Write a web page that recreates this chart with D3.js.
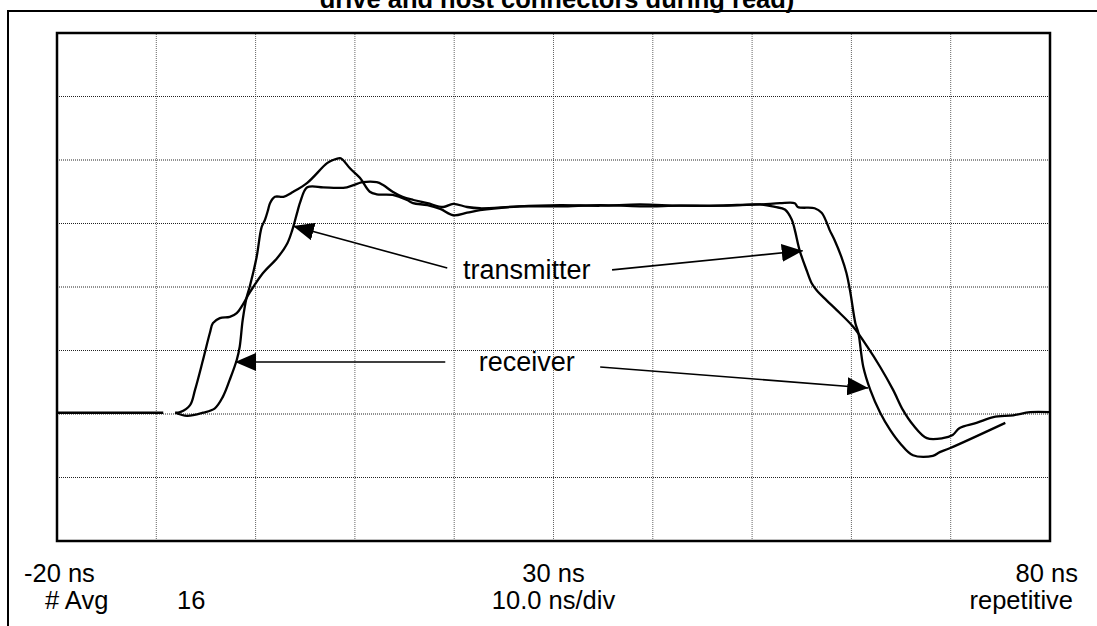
<!DOCTYPE html>
<html>
<head>
<meta charset="utf-8">
<script src="https://cdn.jsdelivr.net/npm/d3@7"></script>
<style>
  body { margin: 0; background: #fff; }
  text { font-family: "Liberation Sans", Arial, sans-serif; fill: #000; }
</style>
</head>
<body>
<div id="graph"></div>
<script>
const WIDTH = 1097, HEIGHT = 626;
const margin = {top: 33, right: 47, bottom: 85, left: 57};

// time in ns, level in screen divisions (0 = bottom, 8 = top)
const xDomain = [-20, 80];
const yDomain = [0, 8];
const xGrid = [-10, 0, 10, 20, 30, 40, 50, 60, 70];
const yGrid = [1, 2, 3, 4, 5, 6, 7];

const transmitter = [
  [-8.1, 2.02], [-7.6, 2.03], [-6.6, 2.14], [-6.1, 2.38], [-5.3, 2.85], [-4.6, 3.28],
  [-4.3, 3.43], [-3.6, 3.51], [-2.6, 3.53], [-1.9, 3.59], [-1.3, 3.72], [-0.6, 3.91],
  [0.75, 4.22], [2.2, 4.46], [3.2, 4.69], [3.7, 4.90], [4.2, 5.18], [4.5, 5.34],
  [5.2, 5.57], [6.8, 5.57], [8.2, 5.56], [9.2, 5.57], [10.8, 5.65], [12.2, 5.65],
  [12.8, 5.61], [13.8, 5.50], [14.8, 5.42], [15.9, 5.37], [17.3, 5.32], [18.9, 5.26],
  [19.9, 5.31], [21.3, 5.26], [22.6, 5.24], [26.6, 5.27], [30.7, 5.27], [34.7, 5.29],
  [38.7, 5.27], [42.7, 5.28], [46.8, 5.28], [50.8, 5.30], [52.3, 5.26], [53.3, 5.22],
  [54.0, 5.06], [54.3, 4.90], [54.8, 4.57], [55.5, 4.26], [56.0, 4.06], [56.5, 3.95],
  [57.5, 3.79], [58.5, 3.64], [60.2, 3.37], [61.6, 3.06], [62.9, 2.74], [64.2, 2.38],
  [65.2, 2.06], [66.2, 1.83], [67.6, 1.62], [69.2, 1.62], [70.2, 1.67], [70.9, 1.78],
  [72.6, 1.86], [74.3, 1.95], [76.3, 1.98], [78.0, 2.03], [80.0, 2.03]
];

const receiver = [
  [-20, 2.02], [-9.3, 2.02], null,
  [-8.1, 2.02], [-6.9, 1.97], [-5.3, 2.02], [-4.1, 2.09], [-3.3, 2.27], [-2.6, 2.54],
  [-1.9, 2.85], [-1.6, 3.06], [-1.3, 3.48], [-0.9, 3.84], [-0.6, 4.00], [0.1, 4.47],
  [0.6, 4.94], [0.95, 5.06], [1.25, 5.21], [1.45, 5.32], [1.95, 5.42], [2.8, 5.42],
  [3.8, 5.50], [5.2, 5.64], [7.2, 5.95], [7.8, 6.00], [8.5, 6.03], [8.8, 6.00],
  [9.5, 5.87], [10.5, 5.72], [11.5, 5.50], [12.2, 5.46], [13.8, 5.45], [15.25, 5.37],
  [15.85, 5.32], [17.3, 5.29], [18.6, 5.23], [19.9, 5.13], [21.3, 5.17], [22.6, 5.21],
  [26.6, 5.27], [30.7, 5.29], [34.7, 5.28], [38.7, 5.30], [42.7, 5.28], [46.8, 5.28],
  [50.8, 5.30], [52.8, 5.32], [54.3, 5.32], [54.6, 5.26], [56.3, 5.24], [57.0, 5.17],
  [57.5, 5.02], [57.8, 4.90], [58.3, 4.74], [59.0, 4.47], [59.5, 4.22], [59.9, 3.91],
  [60.4, 3.43], [60.7, 3.28], [61.2, 2.74], [61.9, 2.38], [62.9, 2.02], [63.9, 1.75],
  [64.9, 1.54], [66.2, 1.35], [68.2, 1.34], [68.9, 1.40], [69.9, 1.46], [75.5, 1.86]
];

// annotations: label position and arrows [from, to]
const labels = [
  {text: "transmitter", at: [27.3, 4.13]},
  {text: "receiver", at: [27.3, 2.67]}
];
const arrows = [
  [[19.3, 4.30], [3.77, 4.96]],
  [[35.9, 4.27], [55.1, 4.57]],
  [[19.1, 2.82], [-2.07, 2.82]],
  [[34.7, 2.74], [61.7, 2.41]]
];

const footLeft = ["-20 ns", "# Avg", "16"];
const footMid = ["30 ns", "10.0 ns/div"];
const footRight = ["80 ns", "repetitive"];
const title = "drive and host connectors during read)";

let svg = d3.select("#graph")
    .append("svg")
    .attr("width", WIDTH)
    .attr("height", HEIGHT);

let x = d3.scaleLinear()
    .domain(xDomain)
    .range([margin.left, WIDTH - margin.right]);

let y = d3.scaleLinear()
    .domain(yDomain)
    .range([HEIGHT - margin.bottom, margin.top]);

// outer page frame (top and left edges)
svg.append("path")
    .attr("d", `M8,${HEIGHT} V11 H${WIDTH}`)
    .attr("fill", "none")
    .attr("stroke", "#000")
    .attr("stroke-width", 2);

// second title line, its top is cut by the page edge as in the original
svg.append("text")
    .attr("x", 557)
    .attr("y", 7.5)
    .attr("text-anchor", "middle")
    .style("font-size", "25.5px")
    .style("font-weight", "bold")
    .text(title);

// dotted grid
svg.append("g").selectAll("line").data(xGrid).join("line")
    .attr("x1", d => x(d)).attr("x2", d => x(d))
    .attr("y1", y(yDomain[0])).attr("y2", y(yDomain[1]))
    .attr("stroke", "#666")
    .attr("stroke-width", 1)
    .attr("stroke-dasharray", "1,1");

svg.append("g").selectAll("line").data(yGrid).join("line")
    .attr("x1", x(xDomain[0])).attr("x2", x(xDomain[1]))
    .attr("y1", d => y(d)).attr("y2", d => y(d))
    .attr("stroke", "#222")
    .attr("stroke-width", 1)
    .attr("stroke-dasharray", "1,1");

svg.append("rect")
    .attr("x", x(xDomain[0]))
    .attr("y", y(yDomain[1]))
    .attr("width", x(xDomain[1]) - x(xDomain[0]))
    .attr("height", y(yDomain[0]) - y(yDomain[1]))
    .attr("fill", "none")
    .attr("stroke", "#000")
    .attr("stroke-width", 2.5);

let line = d3.line()
    .defined(d => d !== null)
    .x(d => x(d[0]))
    .y(d => y(d[1]))
    .curve(d3.curveCatmullRom.alpha(0.5));

svg.append("g").selectAll("path").data([transmitter, receiver]).join("path")
    .attr("d", line)
    .attr("fill", "none")
    .attr("stroke", "#000")
    .attr("stroke-width", 2.3)
    .attr("stroke-linejoin", "round");

// arrow heads
svg.append("defs").append("marker")
    .attr("id", "head")
    .attr("viewBox", "0 -9 21 18")
    .attr("refX", 21)
    .attr("refY", 0)
    .attr("markerUnits", "userSpaceOnUse")
    .attr("markerWidth", 21)
    .attr("markerHeight", 18)
    .attr("orient", "auto")
    .append("path")
    .attr("d", "M0,-9L21,0L0,9Z")
    .attr("fill", "#000");

svg.append("g").selectAll("line").data(arrows).join("line")
    .attr("x1", d => x(d[0][0])).attr("y1", d => y(d[0][1]))
    .attr("x2", d => x(d[1][0])).attr("y2", d => y(d[1][1]))
    .attr("stroke", "#000")
    .attr("stroke-width", 1.6)
    .attr("marker-end", "url(#head)");

svg.append("g").selectAll("text").data(labels).join("text")
    .attr("x", d => x(d.at[0]))
    .attr("y", d => y(d.at[1]))
    .attr("text-anchor", "middle")
    .style("font-size", "27px")
    .text(d => d.text);

// footer readouts
let foot = svg.append("g").style("font-size", "25.5px");
foot.append("text").attr("x", 24).attr("y", 582).text(footLeft[0]);
foot.append("text").attr("x", 45).attr("y", 609).text(footLeft[1]);
foot.append("text").attr("x", 177).attr("y", 609).text(footLeft[2]);
foot.selectAll(".mid").data(footMid).join("text")
    .attr("class", "mid")
    .attr("x", x(30))
    .attr("y", (d, i) => 582 + i * 27)
    .attr("text-anchor", "middle")
    .text(d => d);
foot.selectAll(".right").data(footRight).join("text")
    .attr("class", "right")
    .attr("x", (d, i) => 1078 - i * 5)
    .attr("y", (d, i) => 582 + i * 27)
    .attr("text-anchor", "end")
    .text(d => d);
</script>
</body>
</html>
